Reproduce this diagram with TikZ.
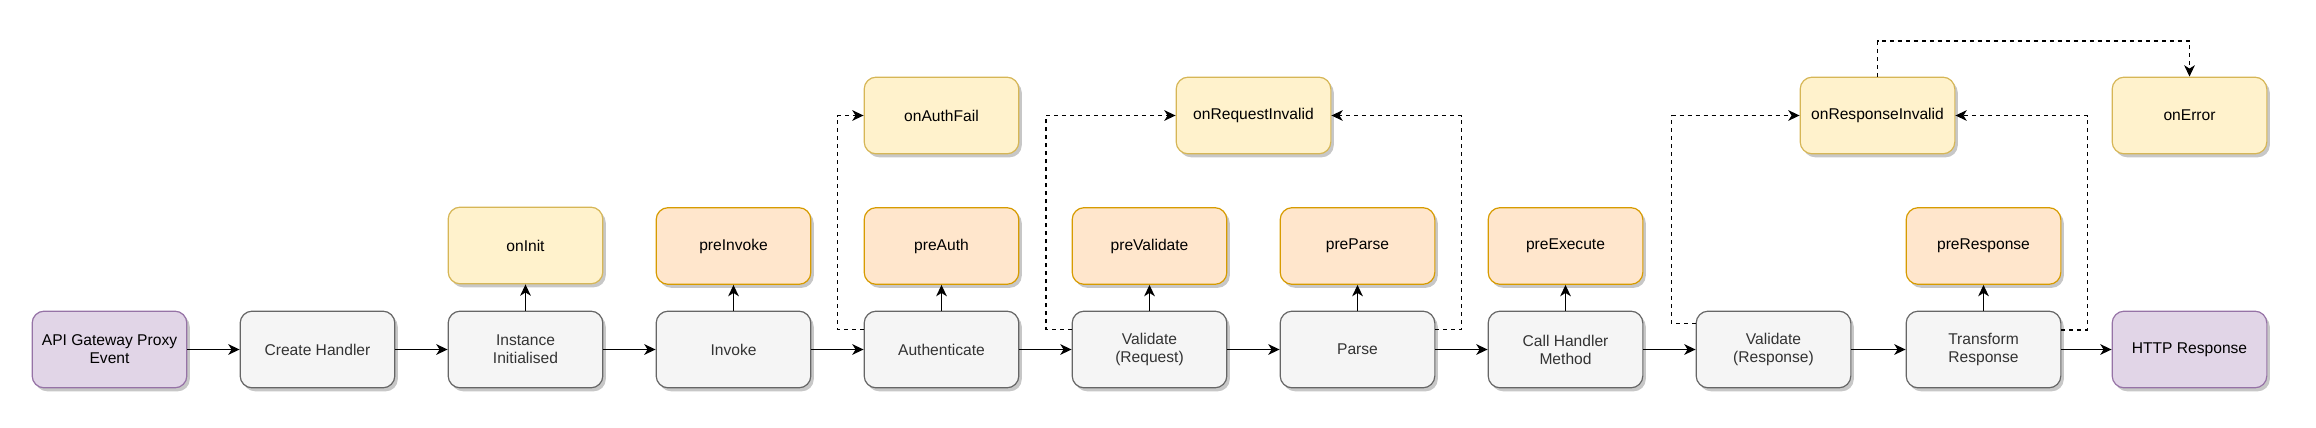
\documentclass[tikz,border=0pt]{standalone}
\usepackage{fontspec}
\setmainfont{Liberation Sans}
\usetikzlibrary{arrows.meta,shadows,calc}
\definecolor{grayfill}{HTML}{F5F5F5}
\definecolor{graydraw}{HTML}{666666}
\definecolor{graytext}{HTML}{333333}
\definecolor{purplefill}{HTML}{E1D5E7}
\definecolor{purpledraw}{HTML}{9673A6}
\definecolor{yellowfill}{HTML}{FFF2CC}
\definecolor{yellowdraw}{HTML}{D6B656}
\definecolor{orangefill}{HTML}{FFE6CC}
\definecolor{orangedraw}{HTML}{D79B00}
\begin{document}
\begin{tikzpicture}[x=0.75pt,y=-0.75pt,
  box/.style={rectangle, rounded corners=9pt, minimum width=116pt, minimum height=57.5pt,
    line width=0.9pt, align=center, inner sep=0pt,
    font=\fontsize{11.7}{13.4}\selectfont,
    drop shadow={shadow xshift=2.2pt, shadow yshift=-2.6pt, fill=black, opacity=0.22}},
  graybox/.style={box, fill=grayfill, draw=graydraw, text=graytext},
  purplebox/.style={box, fill=purplefill, draw=purpledraw, text=black},
  yellowbox/.style={box, fill=yellowfill, draw=yellowdraw, text=black},
  orangebox/.style={box, fill=orangefill, draw=orangedraw, text=black},
  flow/.style={line width=1pt, -{Stealth[length=8.5pt,width=8pt,inset=2.5pt]}},
  dflow/.style={flow, dash pattern=on 3pt off 3pt},
]
\useasboundingbox (0,0) rectangle (2316,428);

% main row
\node[purplebox] (api) at (109.5,349.5) {API Gateway Proxy\\Event};
\node[graybox] (create) at (317.5,349.5) {Create Handler};
\node[graybox] (inst) at (525.5,349.5) {Instance\\Initialised};
\node[graybox] (invoke) at (733.5,349.5) {Invoke};
\node[graybox] (auth) at (941.5,349.5) {Authenticate};
\node[graybox] (valreq) at (1149.5,349.5) {Validate\\(Request)};
\node[graybox] (parse) at (1357.5,349.5) {Parse};
\node[graybox] (call) at (1565.5,349.5) {Call Handler\\Method};
\node[graybox] (valres) at (1773.5,349.5) {Validate\\(Response)};
\node[graybox] (trans) at (1983.5,349.5) {Transform\\Response};
\node[purplebox] (http) at (2189.5,349.5) {HTTP Response};

% pre row
\node[yellowbox] (oninit) at (525.5,245.5) {onInit};
\node[orangebox] (preinvoke) at (733.5,246) {preInvoke};
\node[orangebox] (preauth) at (941.5,246) {preAuth};
\node[orangebox] (prevalidate) at (1149.5,246) {preValidate};
\node[orangebox] (preparse) at (1357.5,246) {preParse};
\node[orangebox] (preexecute) at (1565.5,246) {preExecute};
\node[orangebox] (preresponse) at (1983.5,246) {preResponse};

% on row
\node[yellowbox] (onauthfail) at (941.5,115.5) {onAuthFail};
\node[yellowbox] (onreqinv) at (1253.5,115.5) {onRequestInvalid};
\node[yellowbox] (onresinv) at (1877.5,115.5) {onResponseInvalid};
\node[yellowbox] (onerror) at (2189.5,115.5) {onError};

% main flow
\draw[flow] (api) -- (create);
\draw[flow] (create) -- (inst);
\draw[flow] (inst) -- (invoke);
\draw[flow] (invoke) -- (auth);
\draw[flow] (auth) -- (valreq);
\draw[flow] (valreq) -- (parse);
\draw[flow] (parse) -- (call);
\draw[flow] (call) -- (valres);
\draw[flow] (valres) -- (trans);
\draw[flow] (trans) -- (http);

% hooks
\draw[flow] (inst) -- (oninit);
\draw[flow] (invoke) -- (preinvoke);
\draw[flow] (auth) -- (preauth);
\draw[flow] (valreq) -- (prevalidate);
\draw[flow] (parse) -- (preparse);
\draw[flow] (call) -- (preexecute);
\draw[flow] (trans) -- (preresponse);

% error paths
\draw[dflow] ($(auth.west)+(0,-19.8)$) -- ++(-26,0) |- (onauthfail.west);
\draw[dflow] ($(valreq.west)+(0,-19.8)$) -- ++(-25.5,0) |- (onreqinv.west);
\draw[dflow] ($(parse.east)+(0,-19.8)$) -- ++(26,0) |- (onreqinv.east);
\draw[dflow] ($(valres.west)+(0,-26)$) -- ++(-24,0) |- (onresinv.west);
\draw[dflow] ($(trans.east)+(0,-19.5)$) -- ++(26,0) |- (onresinv.east);
\draw[dflow] (onresinv.north) -- ++(0,-35.7) -| (onerror.north);
\end{tikzpicture}
\end{document}
